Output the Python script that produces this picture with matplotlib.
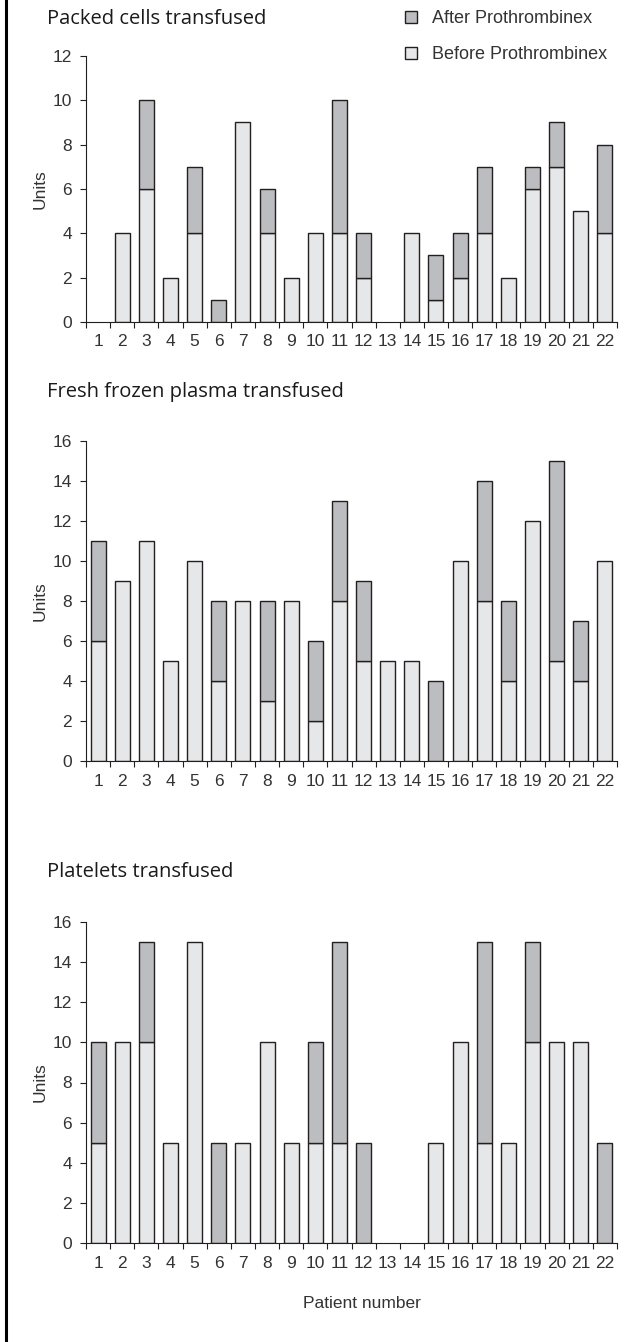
import matplotlib.pyplot as plt
from matplotlib.patches import Patch
from matplotlib.ticker import FixedLocator

# patient numbers 1..22
patients = [str(i) for i in range(1, 23)]

# units before / after Prothrombinex
packed_before = [0, 4, 6, 2, 4, 0, 9, 4, 2, 4, 4, 2, 0, 4, 1, 2, 4, 2, 6, 7, 5, 4]
packed_after = [0, 0, 4, 0, 3, 1, 0, 2, 0, 0, 6, 2, 0, 0, 2, 2, 3, 0, 1, 2, 0, 4]

ffp_before = [6, 9, 11, 5, 10, 4, 8, 3, 8, 2, 8, 5, 5, 5, 0, 10, 8, 4, 12, 5, 4, 10]
ffp_after = [5, 0, 0, 0, 0, 4, 0, 5, 0, 4, 5, 4, 0, 0, 4, 0, 6, 4, 0, 10, 3, 0]

platelets_before = [5, 10, 10, 5, 15, 0, 5, 10, 5, 5, 5, 0, 0, 0, 5, 10, 5, 5, 10, 10, 10, 0]
platelets_after = [5, 0, 5, 0, 0, 5, 0, 0, 0, 5, 10, 5, 0, 0, 0, 0, 10, 0, 5, 0, 0, 5]

BEFORE_COL = '#e6e7e8'
AFTER_COL = '#bcbdc0'
EDGE = '#231f20'
TXT = '#333333'
TICK_FONT = 'Liberation Sans'
TITLE_FONT = 'Open Sans'

W, H = 638, 1342


def panel(fig, top, bottom, before, after, ymax, title, title_y):
    ax = fig.add_axes([86 / W, 1 - bottom / H, 531 / W, (bottom - top) / H])
    x = range(len(patients))
    bar_kw = dict(width=0.62, edgecolor=EDGE, linewidth=1.0)
    nz_b = [i for i in x if before[i] > 0]
    nz_a = [i for i in x if after[i] > 0]
    ax.bar(nz_b, [before[i] for i in nz_b], color=BEFORE_COL, **bar_kw)
    ax.bar(nz_a, [after[i] for i in nz_a], bottom=[before[i] for i in nz_a],
           color=AFTER_COL, **bar_kw)

    ax.set_xlim(-0.5, len(patients) - 0.5)
    ax.set_ylim(0, ymax)
    ax.set_yticks(range(0, ymax + 1, 2))
    ax.set_xticks(list(x))
    ax.set_xticklabels(patients)
    ax.xaxis.set_minor_locator(FixedLocator([i - 0.5 for i in range(len(patients) + 1)]))
    ax.tick_params(axis='x', which='major', length=0, pad=9, labelsize=12.5,
                   labelcolor=TXT)
    ax.tick_params(axis='x', which='minor', length=4, width=0.8, color=EDGE)
    ax.tick_params(axis='y', length=4, width=0.8, color=EDGE, pad=6,
                   labelsize=12.5, labelcolor=TXT)
    for lab in ax.get_xticklabels() + ax.get_yticklabels():
        lab.set_fontfamily(TICK_FONT)
    for s in ['top', 'right']:
        ax.spines[s].set_visible(False)
    for s in ['left', 'bottom']:
        ax.spines[s].set_color(EDGE)
        ax.spines[s].set_linewidth(0.8)
    ax.set_ylabel('Units', fontsize=12.5, color=TXT, family=TICK_FONT, labelpad=4)
    fig.text(47 / W, 1 - title_y / H, title, fontsize=14.5, family=TITLE_FONT,
             color='#1a1a1a', va='center', ha='left')
    return ax


fig = plt.figure(figsize=(6.38, 13.42), dpi=100)

panel(fig, 56, 322, packed_before, packed_after, 12, 'Packed cells transfused', 19)
panel(fig, 441, 761, ffp_before, ffp_after, 16, 'Fresh frozen plasma transfused', 392)
ax3 = panel(fig, 922, 1243, platelets_before, platelets_after, 16,
            'Platelets transfused', 872)
ax3.set_xlabel('Patient number', fontsize=12.5, color=TXT, family=TICK_FONT, labelpad=18)
ax3.xaxis.label.set_x(0.52)

handles = [Patch(facecolor=AFTER_COL, edgecolor=EDGE, linewidth=1.0),
           Patch(facecolor=BEFORE_COL, edgecolor=EDGE, linewidth=1.0)]
leg = fig.legend(handles, ['After Prothrombinex', 'Before Prothrombinex'],
                 loc='upper left', bbox_to_anchor=(398 / W, 1 - 3 / H),
                 borderaxespad=0, frameon=False, handlelength=0.65,
                 handleheight=0.65, handletextpad=0.85, labelspacing=1.05,
                 prop={'family': TICK_FONT, 'size': 13})
for t in leg.get_texts():
    t.set_color(TXT)

# black frame line on the left edge, as in the original page
fig.add_artist(plt.Line2D([5.5 / W, 5.5 / W], [0, 1], color='black', linewidth=2.2,
                          transform=fig.transFigure))

fig.savefig('out.png', dpi=100)
